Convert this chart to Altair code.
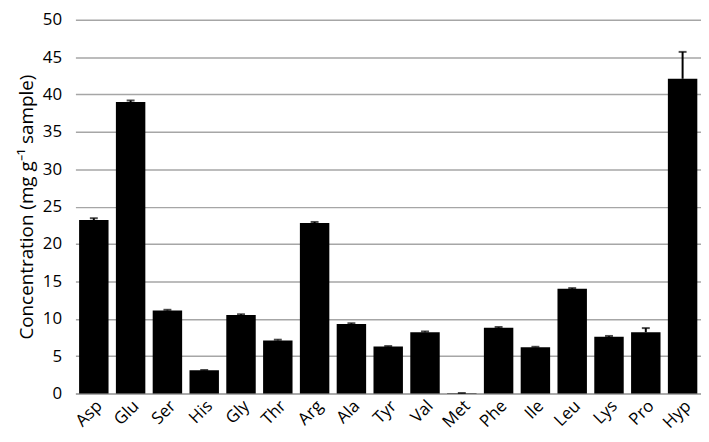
import altair as alt
import pandas as pd

amino = ["Asp", "Glu", "Ser", "His", "Gly", "Thr", "Arg", "Ala", "Tyr", "Val",
         "Met", "Phe", "Ile", "Leu", "Lys", "Pro", "Hyp"]
conc = [23.2, 39.0, 11.1, 3.1, 10.5, 7.1, 22.8, 9.3, 6.3, 8.2,
        0.05, 8.8, 6.2, 14.0, 7.6, 8.2, 42.1]
err = [0.25, 0.2, 0.1, 0.05, 0.1, 0.1, 0.15, 0.1, 0.05, 0.1,
       0.02, 0.1, 0.05, 0.1, 0.1, 0.55, 3.6]
yticks = [0, 5, 10, 15, 20, 25, 30, 35, 40, 45, 50]

df = pd.DataFrame({"aa": amino, "c": conc, "e": err})
df["top"] = df["c"] + df["e"]

FONT = "Open Sans"
TITLE = "Concentration (mg g⁻¹ sample)"
xaxis = alt.Axis(labelAngle=-45, labelFontSize=17, labelFont=FONT,
                 labelColor="black", ticks=False, domain=True, grid=False,
                 domainColor="#A6A6A6", domainWidth=1.5, labelPadding=4)
yaxis = alt.Axis(values=yticks, labelFontSize=17, labelOverlap=False,
                 labelFont=FONT, labelColor="black", ticks=False,
                 domain=False, gridColor="#A6A6A6", gridWidth=1.5,
                 titleFontSize=19, titleFont=FONT, titleFontWeight="normal",
                 titleColor="black", labelPadding=14, titlePadding=6)
xscale = alt.Scale(paddingInner=0.2, paddingOuter=0.1)
yscale = alt.Scale(domain=[0, 50])

def X():
    return alt.X("aa:N", sort=amino, title=None, scale=xscale, axis=xaxis)

bars = alt.Chart(df).mark_bar(color="black").encode(
    x=X(), y=alt.Y("c:Q", title=TITLE, scale=yscale, axis=yaxis))
rules = alt.Chart(df).mark_rule(color="black", strokeWidth=2).encode(
    x=X(), y=alt.Y("c:Q", title=TITLE, scale=yscale, axis=yaxis), y2="top:Q")
caps = alt.Chart(df).mark_tick(color="black", thickness=2, size=8).encode(
    x=X(), y=alt.Y("top:Q", title=TITLE, scale=yscale, axis=yaxis))

chart = (bars + rules + caps).properties(
    width=631, height=377,
    autosize=alt.AutoSizeParams(type="none"),
    padding={"left": 68, "top": 10, "right": 0, "bottom": 40},
    background="white",
).configure_view(stroke=None, strokeWidth=0)

chart.save("out.html", embed_options={"renderer": "svg", "actions": False})
